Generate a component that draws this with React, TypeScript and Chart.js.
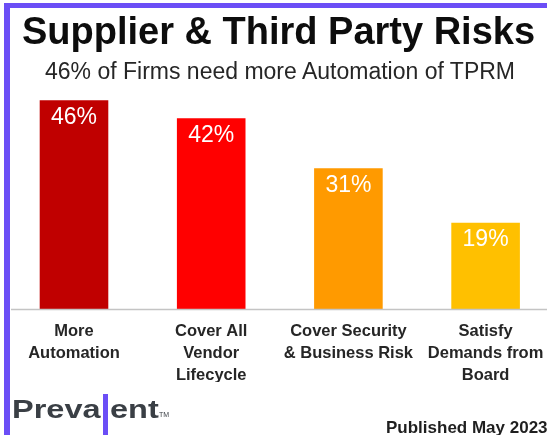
import React, { useEffect, useRef } from "react";
import { Chart, registerables } from "chart.js";

Chart.register(...registerables);

const categories: string[][] = [
  ["More", "Automation"],
  ["Cover All", "Vendor", "Lifecycle"],
  ["Cover Security", "& Business Risk"],
  ["Satisfy", "Demands from", "Board"],
];
const values: number[] = [46, 42, 31, 19];
const barColors: string[] = ["#C00000", "#FF0000", "#FF9A00", "#FFC000"];
const yMax = 50;

const FONT = '"Liberation Sans", Arial, Helvetica, sans-serif';
const PURPLE = "#6B4EF6";

const valueLabels = {
  id: "valueLabels",
  afterDatasetsDraw(chart: any) {
    const ctx = chart.ctx;
    const meta = chart.getDatasetMeta(0);
    ctx.save();
    ctx.font = `23px ${FONT}`;
    ctx.fillStyle = "#ffffff";
    ctx.textAlign = "center";
    ctx.textBaseline = "alphabetic";
    meta.data.forEach((bar: any, i: number) => {
      ctx.fillText(`${values[i]}%`, bar.x, bar.y + 23.5);
    });
    ctx.restore();
  },
};

const baseLine = {
  id: "baseLine",
  afterDatasetsDraw(chart: any) {
    const ctx = chart.ctx;
    const y = chart.chartArea.bottom + 0.5;
    ctx.save();
    ctx.strokeStyle = "#c4c4c4";
    ctx.lineWidth = 1.5;
    ctx.beginPath();
    ctx.moveTo(11, y);
    ctx.lineTo(chart.width, y);
    ctx.stroke();
    ctx.restore();
  },
};

export default function App() {
  const ref = useRef<HTMLCanvasElement | null>(null);

  useEffect(() => {
    if (!ref.current) return;
    const chart = new Chart(ref.current, {
      type: "bar",
      data: {
        labels: categories,
        datasets: [
          {
            data: values,
            backgroundColor: barColors,
            borderWidth: 0,
            barPercentage: 0.5,
            categoryPercentage: 1,
          },
        ],
      },
      options: {
        animation: false,
        responsive: false,
        maintainAspectRatio: false,
        layout: { padding: { left: 5.4, right: 5.8, top: 0, bottom: 0 } },
        plugins: {
          legend: { display: false },
          tooltip: { enabled: false },
          title: { display: false },
        },
        scales: {
          x: {
            grid: { display: false },
            border: { display: false },
            ticks: {
              autoSkip: false,
              maxRotation: 0,
              minRotation: 0,
              padding: 4,
              color: "#262626",
              font: { family: FONT, size: 16.5, weight: "bold", lineHeight: 1.315 },
            },
            afterFit: (scale: any) => {
              scale.height = 73;
            },
          },
          y: {
            display: false,
            min: 0,
            max: yMax,
          },
        },
      },
      plugins: [valueLabels, baseLine],
    });
    return () => chart.destroy();
  }, []);

  const logoText: React.CSSProperties = {
    position: "absolute",
    top: 394.5,
    fontSize: 26,
    lineHeight: "28px",
    fontWeight: "bold",
    color: "#3a3f45",
    transform: "scaleX(1.25)",
    transformOrigin: "left",
    whiteSpace: "nowrap",
  };

  return (
    <div
      style={{
        position: "absolute",
        left: 0,
        top: 0,
        width: 547,
        height: 435,
        overflow: "hidden",
        background: "#ffffff",
        fontFamily: FONT,
      }}
    >
      <canvas
        ref={ref}
        width={560}
        height={300}
        style={{ position: "absolute", left: 0, top: 82, width: 560, height: 300 }}
      />
      <div
        style={{
          position: "absolute",
          left: 4,
          top: 3,
          width: 560,
          height: 440,
          borderLeft: `6px solid ${PURPLE}`,
          borderTop: `5px solid ${PURPLE}`,
          boxSizing: "border-box",
          pointerEvents: "none",
        }}
      />
      <div
        style={{
          position: "absolute",
          left: 10,
          width: 537,
          top: 8.8,
          textAlign: "center",
          fontSize: 38,
          lineHeight: "44px",
          fontWeight: "bold",
          color: "#0d0d0d",
          whiteSpace: "nowrap",
        }}
      >
        Supplier &amp; Third Party Risks
      </div>
      <div
        style={{
          position: "absolute",
          left: 10,
          width: 540,
          top: 58,
          textAlign: "center",
          fontSize: 23,
          lineHeight: "26px",
          color: "#262626",
          whiteSpace: "nowrap",
        }}
      >
        46% of Firms need more Automation of TPRM
      </div>
      <div style={{ ...logoText, left: 12 }}>Preva</div>
      <div
        style={{
          position: "absolute",
          left: 103,
          top: 394,
          width: 5,
          height: 41,
          background: PURPLE,
        }}
      />
      <div style={{ ...logoText, left: 110 }}>ent</div>
      <div
        style={{
          position: "absolute",
          left: 159,
          top: 410,
          fontSize: 7,
          lineHeight: "9px",
          color: "#3a3f45",
          whiteSpace: "nowrap",
        }}
      >
        TM
      </div>
      <div
        style={{
          position: "absolute",
          left: 386,
          top: 417.5,
          fontSize: 17,
          lineHeight: "19px",
          fontWeight: "bold",
          color: "#1f1f1f",
          whiteSpace: "nowrap",
        }}
      >
        Published May 2023
      </div>
    </div>
  );
}
